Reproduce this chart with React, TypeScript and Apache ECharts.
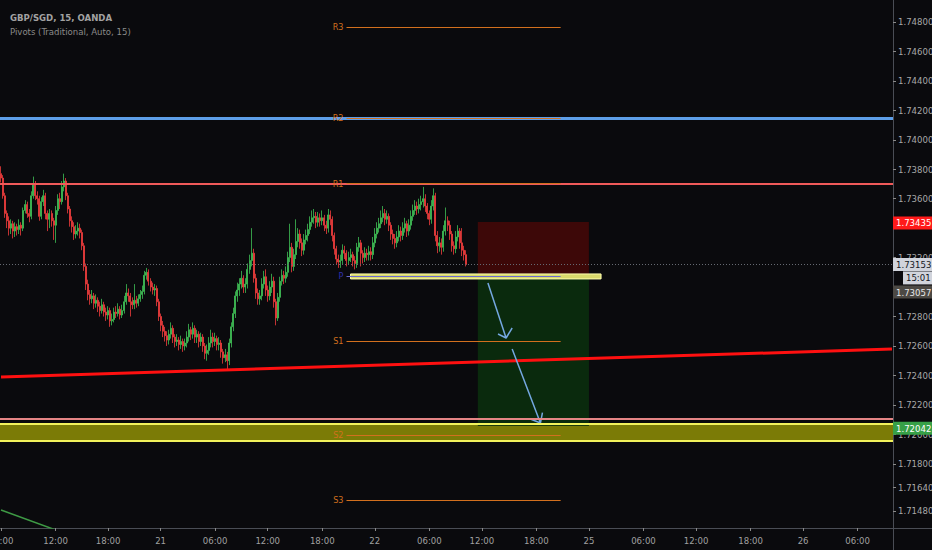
import React, { useEffect, useRef } from 'react';
import * as echarts from 'echarts';

// x axis: one category per 15-min bar, labels every 6h (weekend gap removed)
const barCount = 442;
const timeLabels = ['06:00', '12:00', '18:00', '21', '06:00', '12:00', '18:00', '22', '06:00', '12:00', '18:00', '25', '06:00', '12:00', '18:00', '26', '06:00'];
const timeLabelIdx = [0, 27, 53, 79, 106, 132, 159, 185, 212, 238, 265, 291, 318, 344, 371, 397, 424];

// price axis
const yMin = 1.71364;
const yMax = 1.74949;
const priceTicks = [1.748, 1.746, 1.744, 1.742, 1.74, 1.738, 1.736, 1.732, 1.728, 1.726, 1.724, 1.722, 1.72, 1.718, 1.7164, 1.7148];

// GBP/SGD 15m candles (open = previous close)
const firstOpen = 1.7377;
const closes = [
  1.7374, 1.7362, 1.7350, 1.7345, 1.7340, 1.7343, 1.7338, 1.7341, 1.7339, 1.7342,
  1.7340, 1.7352, 1.7356, 1.7350, 1.7348, 1.7362, 1.7370, 1.7362, 1.7360, 1.7348,
  1.7358, 1.7362, 1.7350, 1.7346, 1.7350, 1.7345, 1.7342, 1.7352, 1.7360, 1.7358,
  1.7368, 1.7372, 1.7362, 1.7353, 1.7345, 1.7341, 1.7336, 1.7338, 1.7340, 1.7337,
  1.7328, 1.7314, 1.7302, 1.7295, 1.7292, 1.7294, 1.7289, 1.7291, 1.7287, 1.7284,
  1.7288, 1.7283, 1.7281, 1.7284, 1.7277, 1.7278, 1.7283, 1.7282, 1.7285, 1.7281,
  1.7284, 1.7290, 1.7296, 1.7294, 1.7290, 1.7288, 1.7291, 1.7289, 1.7292, 1.7295,
  1.7297, 1.7308, 1.7310, 1.7304, 1.7300, 1.7298, 1.7299, 1.7290, 1.7280, 1.7274,
  1.7270, 1.7267, 1.7264, 1.7268, 1.7272, 1.7266, 1.7263, 1.7264, 1.7261, 1.7263,
  1.7260, 1.7262, 1.7266, 1.7271, 1.7268, 1.7272, 1.7266, 1.7268, 1.7263, 1.7266,
  1.7260, 1.7255, 1.7257, 1.7262, 1.7266, 1.7263, 1.7265, 1.7261, 1.7262, 1.7256,
  1.7252, 1.7254, 1.7250, 1.7262, 1.7273, 1.7282, 1.7294, 1.7298, 1.7302, 1.7306,
  1.7300, 1.7302, 1.7312, 1.7318, 1.7323, 1.7306, 1.7296, 1.7292, 1.7294, 1.7302,
  1.7307, 1.7298, 1.7294, 1.7300, 1.7304, 1.7290, 1.7279, 1.7293, 1.7304, 1.7308,
  1.7306, 1.7310, 1.7320, 1.7327, 1.7314, 1.7322, 1.7331, 1.7336, 1.7330, 1.7325,
  1.7332, 1.7335, 1.7339, 1.7344, 1.7347, 1.7348, 1.7344, 1.7347, 1.7345, 1.7347,
  1.7342, 1.7340, 1.7349, 1.7346, 1.7335, 1.7326, 1.7319, 1.7317, 1.7318, 1.7325,
  1.7323, 1.7318, 1.7320, 1.7322, 1.7318, 1.7316, 1.7327, 1.7330, 1.7323, 1.7320,
  1.7323, 1.7322, 1.7324, 1.7322, 1.7330, 1.7336, 1.7340, 1.7343, 1.7347, 1.7350,
  1.7346, 1.7348, 1.7342, 1.7336, 1.7333, 1.7330, 1.7334, 1.7338, 1.7335, 1.7340,
  1.7343, 1.7338, 1.7342, 1.7348, 1.7352, 1.7355, 1.7353, 1.7356, 1.7358, 1.7360,
  1.7355, 1.7350, 1.7346, 1.7355, 1.7362, 1.7335, 1.7328, 1.7330, 1.7327, 1.7338,
  1.7345, 1.7342, 1.7336, 1.7328, 1.7326, 1.7334, 1.7338, 1.7330, 1.7325, 1.7322,
  1.73153,
];
const highs = [
  1.7382, 1.7376, 1.7364, 1.7352, 1.7348, 1.7346, 1.7345, 1.7344, 1.7343, 1.7346,
  1.7344, 1.7354, 1.7359, 1.7358, 1.7353, 1.7365, 1.7375, 1.7372, 1.7365, 1.7362,
  1.7361, 1.7366, 1.7364, 1.7352, 1.7353, 1.7352, 1.7347, 1.7355, 1.7363, 1.7364,
  1.7372, 1.7377, 1.7374, 1.7364, 1.7355, 1.7348, 1.7344, 1.7342, 1.7344, 1.7343,
  1.7339, 1.7330, 1.7316, 1.7305, 1.7298, 1.7298, 1.7296, 1.7295, 1.7293, 1.7290,
  1.7292, 1.7290, 1.7286, 1.7287, 1.7286, 1.7282, 1.7286, 1.7287, 1.7289, 1.7287,
  1.7288, 1.7294, 1.7302, 1.7299, 1.7296, 1.7293, 1.7302, 1.7294, 1.7295, 1.7298,
  1.7301, 1.7311, 1.7313, 1.7312, 1.7306, 1.7303, 1.7302, 1.7301, 1.7292, 1.7282,
  1.7277, 1.7273, 1.7270, 1.7271, 1.7276, 1.7274, 1.7268, 1.7268, 1.7266, 1.7267,
  1.7265, 1.7265, 1.7270, 1.7275, 1.7273, 1.7276, 1.7274, 1.7271, 1.7270, 1.7269,
  1.7268, 1.7262, 1.7261, 1.7266, 1.7271, 1.7269, 1.7269, 1.7267, 1.7266, 1.7264,
  1.7258, 1.7258, 1.7256, 1.7265, 1.7276, 1.7286, 1.7297, 1.7303, 1.7306, 1.7311,
  1.7308, 1.7306, 1.7316, 1.7322, 1.7340, 1.7326, 1.7309, 1.7299, 1.7298, 1.7306,
  1.7311, 1.7312, 1.7301, 1.7304, 1.7309, 1.7307, 1.7292, 1.7296, 1.7307, 1.7312,
  1.7311, 1.7314, 1.7324, 1.7343, 1.7330, 1.7326, 1.7346, 1.7340, 1.7339, 1.7333,
  1.7336, 1.7339, 1.7343, 1.7348, 1.7352, 1.7353, 1.7351, 1.7351, 1.7350, 1.7352,
  1.7349, 1.7345, 1.7353, 1.7352, 1.7348, 1.7337, 1.7328, 1.7322, 1.7322, 1.7329,
  1.7328, 1.7325, 1.7324, 1.7326, 1.7324, 1.7321, 1.7330, 1.7334, 1.7332, 1.7325,
  1.7327, 1.7326, 1.7328, 1.7327, 1.7334, 1.7340, 1.7344, 1.7347, 1.7352, 1.7355,
  1.7353, 1.7352, 1.7350, 1.7344, 1.7339, 1.7336, 1.7338, 1.7342, 1.7341, 1.7344,
  1.7347, 1.7345, 1.7346, 1.7352, 1.7356, 1.7359, 1.7358, 1.7360, 1.7362, 1.7368,
  1.7363, 1.7357, 1.7352, 1.7359, 1.7367, 1.7364, 1.7338, 1.7334, 1.7333, 1.7342,
  1.7354, 1.7348, 1.7345, 1.7338, 1.7331, 1.7338, 1.7342, 1.7340, 1.7340, 1.7328,
  1.7325,
];
const lows = [
  1.7371, 1.7360, 1.7347, 1.7340, 1.7335, 1.7336, 1.7333, 1.7334, 1.7335, 1.7336,
  1.7335, 1.7338, 1.7350, 1.7347, 1.7344, 1.7346, 1.7360, 1.7359, 1.7356, 1.7345,
  1.7346, 1.7355, 1.7346, 1.7338, 1.7340, 1.7341, 1.7332, 1.7330, 1.7349, 1.7353,
  1.7356, 1.7365, 1.7359, 1.7350, 1.7341, 1.7337, 1.7332, 1.7333, 1.7335, 1.7333,
  1.7325, 1.7311, 1.7298, 1.7291, 1.7288, 1.7289, 1.7285, 1.7286, 1.7283, 1.7280,
  1.7282, 1.7280, 1.7277, 1.7278, 1.7273, 1.7274, 1.7276, 1.7279, 1.7280, 1.7278,
  1.7279, 1.7282, 1.7288, 1.7290, 1.7280, 1.7285, 1.7285, 1.7286, 1.7287, 1.7290,
  1.7292, 1.7295, 1.7305, 1.7301, 1.7297, 1.7295, 1.7294, 1.7287, 1.7277, 1.7270,
  1.7266, 1.7263, 1.7260, 1.7261, 1.7265, 1.7262, 1.7259, 1.7260, 1.7257, 1.7258,
  1.7256, 1.7257, 1.7259, 1.7263, 1.7264, 1.7265, 1.7262, 1.7262, 1.7259, 1.7260,
  1.7256, 1.7251, 1.7250, 1.7254, 1.7259, 1.7259, 1.7260, 1.7257, 1.7257, 1.7252,
  1.7248, 1.7249, 1.7244, 1.7247, 1.7259, 1.7270, 1.7279, 1.7290, 1.7294, 1.7299,
  1.7296, 1.7296, 1.7299, 1.7309, 1.7314, 1.7303, 1.7292, 1.7288, 1.7288, 1.7291,
  1.7299, 1.7294, 1.7290, 1.7291, 1.7296, 1.7286, 1.7274, 1.7277, 1.7290, 1.7301,
  1.7302, 1.7303, 1.7307, 1.7317, 1.7310, 1.7311, 1.7319, 1.7327, 1.7326, 1.7321,
  1.7322, 1.7329, 1.7331, 1.7336, 1.7341, 1.7343, 1.7340, 1.7341, 1.7341, 1.7342,
  1.7338, 1.7336, 1.7337, 1.7342, 1.7331, 1.7322, 1.7315, 1.7313, 1.7313, 1.7315,
  1.7319, 1.7314, 1.7315, 1.7317, 1.7314, 1.7312, 1.7313, 1.7324, 1.7314, 1.7316,
  1.7317, 1.7318, 1.7318, 1.7318, 1.7319, 1.7327, 1.7333, 1.7337, 1.7340, 1.7344,
  1.7342, 1.7343, 1.7338, 1.7332, 1.7329, 1.7326, 1.7327, 1.7331, 1.7331, 1.7332,
  1.7337, 1.7334, 1.7335, 1.7339, 1.7345, 1.7349, 1.7349, 1.7350, 1.7352, 1.7354,
  1.7351, 1.7346, 1.7342, 1.7343, 1.7352, 1.7331, 1.7323, 1.7324, 1.7322, 1.7324,
  1.7335, 1.7338, 1.7332, 1.7324, 1.7322, 1.7323, 1.7331, 1.7326, 1.7321, 1.7318,
  1.7314,
];

// Pivots (Traditional) for the session
const pivotNames = ['R3', 'R2', 'R1', 'S1', 'S2', 'S3'];
const pivotLevels = [1.74766, 1.74146, 1.73702, 1.72632, 1.71993, 1.71554];
const pivotP = 1.73075;
const pivotSpan = [171, 277];

// drawn levels
const blueLevel = 1.74146;
const redLevel = 1.73702;
const pinkLevel = 1.72105;
const zoneLevels = [1.7207, 1.71955];
const trendRed = [[0, 1.72389], [441, 1.72579]];
const trendGreen = [[0, 1.71486], [49, 1.71241]];

// short position tool
const stopBox = [[236, 1.73442], [291, 1.73082]];
const targetBox = [[236, 1.73082], [291, 1.72056]];
const entryBox = [[173, 1.73089], [297, 1.73055]];

// arrows: start, tip, head left, tip, head right
const arrows = [
  [[241, 1.73027], [250, 1.72654], [246, 1.72681], [250, 1.72654], [253, 1.72722]],
  [[253, 1.72579], [267, 1.72077], [262, 1.72104], [267, 1.72077], [268, 1.72147]],
];

// price axis badges
const badgeTexts = ['1.73435', '1.73153', '15:01', '1.73057', '1.72042'];
const badgeLevels = [1.73435, 1.73153, 1.73062, 1.72966, 1.72042];
const badgeBg = ['#ff1a1a', '#d1d4dc', '#d1d4dc', '#4c4944', '#37a047'];
const badgeFg = ['#ffffff', '#131722', '#131722', '#e8e8e8', '#ffffff'];

const FONT = "'Liberation Sans Narrow', 'DejaVu Sans Condensed', 'Liberation Sans', sans-serif";
const PIVOT_COLOR = '#d2701e';
const AXIS_COLOR = '#4a4d55';

const App: React.FC = () => {
  const chartRef = useRef<HTMLDivElement>(null);

  useEffect(() => {
    if (!chartRef.current) return;
    const chart = echarts.init(chartRef.current, undefined, { renderer: 'svg' });

    const categories: string[] = [];
    for (let i = 0; i < barCount; i++) {
      const k = timeLabelIdx.indexOf(i);
      categories.push(k >= 0 ? timeLabels[k] : '');
    }
    const isLabel = (idx: number) => timeLabelIdx.indexOf(idx) >= 0;

    const ohlc = closes.map((c, i) => [i === 0 ? firstOpen : closes[i - 1], c, lows[i], highs[i]]);

    const hLine = (level: number, color: string, width: number) => ({
      yAxis: level,
      lineStyle: { color, width, type: 'solid' },
      label: { show: false },
    });

    const pivotLine = (name: string, level: number, color: string, labelColor: string) => [
      {
        coord: [pivotSpan[0], level],
        name,
        lineStyle: { color, width: 1.2, type: 'solid' },
        label: {
          show: true,
          position: 'start',
          formatter: name,
          color: labelColor,
          fontSize: 9,
          distance: 3,
          fontFamily: FONT,
        },
      },
      { coord: [pivotSpan[1], level] },
    ];

    const option = {
      animation: false,
      backgroundColor: '#0a0a0d',
      textStyle: { fontFamily: FONT },
      title: {
        text: 'GBP/SGD, 15, OANDA',
        subtext: 'Pivots (Traditional, Auto, 15)',
        left: 5,
        top: 7,
        itemGap: 4,
        textStyle: { color: '#a2a2a2', fontSize: 9.5, fontWeight: 'bold', fontFamily: FONT },
        subtextStyle: { color: '#8a8a8a', fontSize: 9.5, fontFamily: FONT },
      },
      grid: { left: 0, right: 39, top: 0, bottom: 22, containLabel: false, outerBoundsMode: 'none' },
      xAxis: {
        type: 'category',
        data: categories,
        boundaryGap: true,
        axisLine: { show: true, lineStyle: { color: AXIS_COLOR } },
        axisTick: { show: true, interval: isLabel, alignWithLabel: true, length: 3, lineStyle: { color: '#8a8a8a' } },
        axisLabel: { interval: isLabel, color: '#a0a0a0', fontSize: 9.5, margin: 7, fontFamily: FONT },
        splitLine: { show: false },
      },
      yAxis: {
        type: 'value',
        position: 'right',
        min: yMin,
        max: yMax,
        splitLine: { show: false },
        axisLine: { show: true, lineStyle: { color: AXIS_COLOR } },
        axisTick: { show: true, customValues: priceTicks, length: 3, lineStyle: { color: '#8a8a8a' } },
        axisLabel: {
          customValues: priceTicks,
          formatter: (v: number) => v.toFixed(5),
          color: '#a8a8a8',
          fontSize: 9.5,
          margin: 5,
          fontFamily: FONT,
        },
      },
      graphic: [
        { type: 'line', silent: true, shape: { x1: 893, y1: 528.5, x2: 932, y2: 528.5 }, style: { stroke: AXIS_COLOR, lineWidth: 1 } },
        { type: 'line', silent: true, shape: { x1: 893.5, y1: 528, x2: 893.5, y2: 550 }, style: { stroke: AXIS_COLOR, lineWidth: 1 } },
      ],
      series: [
        {
          // demand zone
          type: 'line',
          data: [],
          silent: true,
          markArea: {
            silent: true,
            itemStyle: { color: '#7b7b06' },
            data: [[{ yAxis: zoneLevels[0] }, { yAxis: zoneLevels[1] }]],
          },
          markLine: {
            silent: true,
            precision: 5,
            symbol: ['none', 'none'],
            data: [hLine(zoneLevels[0], '#f3f35c', 2), hLine(zoneLevels[1], '#f3f35c', 2)],
          },
        },
        {
          // position tool
          type: 'line',
          data: [],
          silent: true,
          markArea: {
            silent: true,
            data: [
              [{ coord: stopBox[0], itemStyle: { color: '#3d0808' } }, { coord: stopBox[1] }],
              [{ coord: targetBox[0], itemStyle: { color: 'rgba(10, 48, 14, 0.85)' } }, { coord: targetBox[1] }],
            ],
          },
        },
        {
          // horizontal levels
          type: 'line',
          data: [],
          silent: true,
          markLine: {
            silent: true,
            precision: 5,
            symbol: ['none', 'none'],
            data: [hLine(blueLevel, '#5d9ee8', 3), hLine(redLevel, '#f05a5a', 2), hLine(pinkLevel, '#e58585', 2)],
          },
        },
        {
          type: 'line',
          data: trendRed,
          silent: true,
          symbol: 'none',
          lineStyle: { color: '#ff1010', width: 3 },
        },
        {
          type: 'line',
          data: trendGreen,
          silent: true,
          symbol: 'none',
          lineStyle: { color: '#3e9a45', width: 1.5 },
        },
        {
          // pivots
          type: 'line',
          data: [],
          silent: true,
          markLine: {
            silent: true,
            precision: 5,
            symbol: ['none', 'none'],
            data: pivotNames.map((n, i) => pivotLine(n, pivotLevels[i], PIVOT_COLOR, PIVOT_COLOR)),
          },
        },
        {
          // entry
          type: 'line',
          data: [],
          silent: true,
          markArea: {
            silent: true,
            itemStyle: { color: '#d9d96c', borderColor: '#ffffb0', borderWidth: 1 },
            data: [[{ coord: entryBox[0] }, { coord: entryBox[1] }]],
          },
        },
        {
          type: 'line',
          data: [],
          silent: true,
          markLine: {
            silent: true,
            precision: 5,
            symbol: ['none', 'none'],
            data: [pivotLine('P', pivotP, '#6a6ad0', '#3030b0')],
          },
        },
        ...arrows.map((a) => ({
          type: 'line',
          data: a,
          silent: true,
          symbol: 'none',
          lineStyle: { color: '#74a7e0', width: 1.5 },
        })),
        {
          type: 'candlestick',
          data: ohlc,
          barWidth: 1.5,
          silent: true,
          itemStyle: {
            color: '#4fd364',
            color0: '#ff4848',
            borderColor: '#3fbf55',
            borderColor0: '#f03c3c',
            borderColorDoji: '#3fbf55',
            borderWidth: 0.8,
          },
        },
        {
          // price badges
          type: 'line',
          data: [],
          silent: true,
          clip: false,
          markLine: {
            silent: true,
            precision: 5,
            symbol: ['none', 'none'],
            data: badgeTexts.map((t, i) => ({
              yAxis: badgeLevels[i],
              lineStyle: i === 1
                ? { color: '#666a72', width: 1, type: [1, 2] }
                : { color: 'rgba(0,0,0,0)', width: 0 },
              label: {
                show: true,
                position: 'end',
                formatter: t,
                distance: t === '15:01' ? 10 : 0,
                color: badgeFg[i],
                backgroundColor: badgeBg[i],
                padding: [2, 2, 1, 3],
                fontSize: 9.5,
                fontFamily: FONT,
              },
            })),
          },
        },
      ],
    };

    chart.setOption(option as any);

    return () => {
      chart.dispose();
    };
  }, []);

  return (
    <div
      ref={chartRef}
      style={{ position: 'fixed', left: 0, top: 0, width: '932px', height: '550px', background: '#0a0a0d' }}
    />
  );
};

export default App;
